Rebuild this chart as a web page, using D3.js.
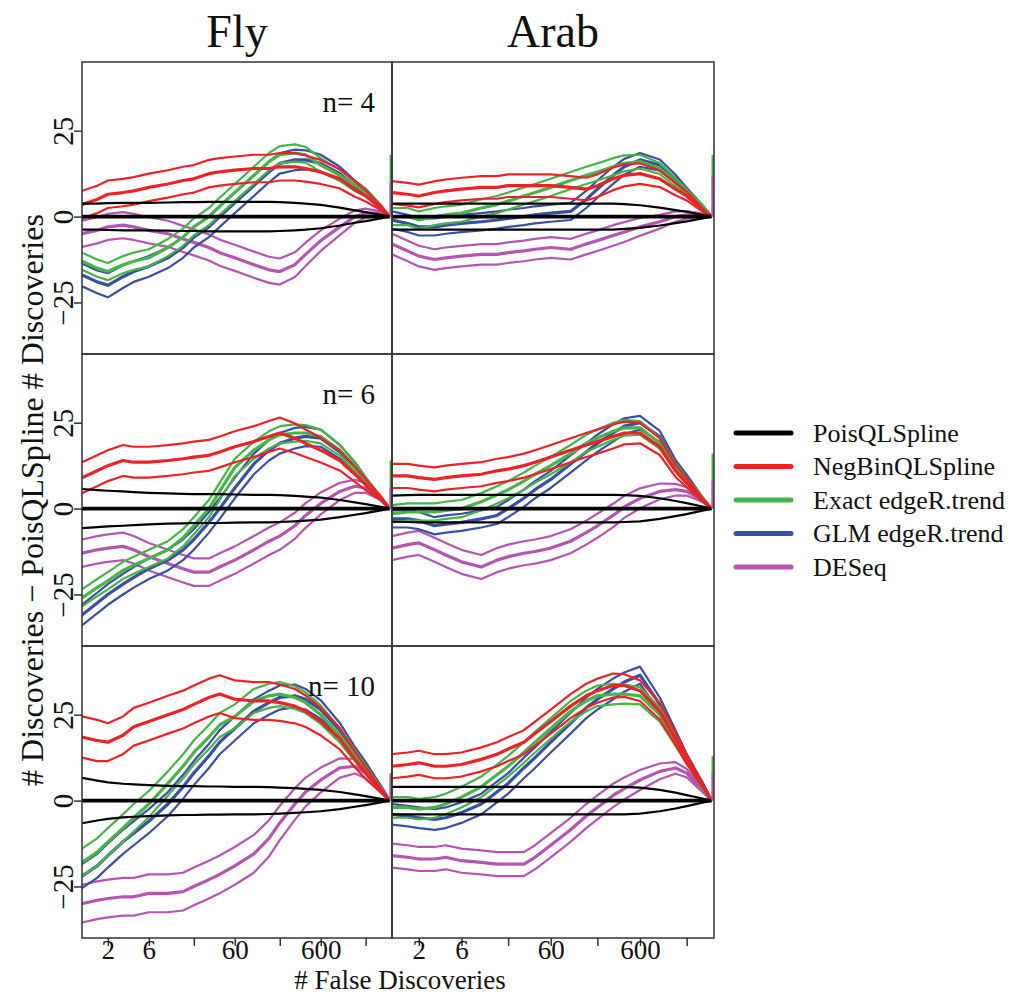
<!DOCTYPE html>
<html>
<head>
<meta charset="utf-8">
<script src="https://d3js.org/d3.v7.min.js"></script>
<style>
  body { margin: 0; background: #fff; }
  svg text { font-family: "Liberation Serif", "Times New Roman", serif; fill: #111; }
</style>
</head>
<body>
<svg id="chart" width="1019" height="998"></svg>
<script>
// x positions (# false discoveries) at which the curves were read
const xs = [1, 1.5, 2, 3, 4, 6, 10, 15, 20, 30, 40, 60, 100, 150, 200, 300, 400, 600, 1000, 1500, 2000, 3000, 3800];
const xTickValues = [2, 6, 20, 60, 200, 600, 2000];
const xTickLabels = ["2", "6", "", "60", "", "600", ""];
const yTickValues = [-25, 0, 25];
const yTickLabels = ["\u221225", "0", "25"];

const methods = ["PoisQLSpline", "NegBinQLSpline", "Exact edgeR.trend", "GLM edgeR.trend", "DESeq"];
const colors = ["#000000", "#ec2227", "#46b449", "#3a4fa2", "#b655b1"];
const species = ["Fly", "Arab"];
const sampleSizes = [4, 6, 10];

// rows: Pois, NegBin, Exact, GLM, DESeq  (mid line and half-width of band)
const fly4Mid = [
  [0,0,0,0,0,0,0,0,0,0,0,0,0,0,0,0,0,0,0,0,0,0,0],
  [3.5,5,6.5,7,7.5,8.5,9.5,10.5,11,12.5,13,13.5,14,14,14.5,14.5,14,13,11,8,6,2.5,0],
  [-13,-15,-16,-14,-13,-12,-9,-6,-3,0,3,7,12,16,18,18.5,18,15,12,9,7,3,0],
  [-17,-19,-20,-17.5,-16,-14.5,-12,-9,-6,-3,0,4,9,13,15.5,16.5,16.5,15.5,12.5,9,7,3,0],
  [-5,-4,-3,-2.5,-3,-4,-5,-6.5,-7.5,-9,-10.5,-12,-14,-15.5,-16,-14,-11,-7,-3,0,1,1,0]
];
const fly4Half = [
  [3.8,3.8,3.9,4,4,4,4.1,4.2,4.2,4.3,4.3,4.3,4.3,4.3,4.2,4,3.8,3.4,2.6,1.8,1.3,0.5,0],
  [4,4,4,4,4,4,4,4,4,4,4,4,4,4,4,4,3.8,3.5,2.8,2.2,1.6,0.6,0],
  [2.5,2.5,2.5,2.5,2.5,2.5,2.5,2.5,2.5,2.5,2.5,2.5,2.5,2.5,2.5,2.5,2.3,2,1.6,1.2,0.9,0.4,0],
  [3.3,3.3,3.5,3.3,3,3,3,3,3,3,3,3,3,3,3,3,2.8,2.5,2,1.5,1.1,0.4,0],
  [3.8,3.8,3.8,3.8,3.8,3.8,3.8,3.8,3.8,3.8,3.8,3.8,3.8,3.8,3.8,3.6,3.4,3,2.4,1.8,1.3,0.5,0]
];
const arab4Mid = [
  [0,0,0,0,0,0,0,0,0,0,0,0,0,0,0,0,0,0,0,0,0,0,0],
  [7,6.5,6,7,7.5,8,8.5,8.5,9,9,9,9,8.5,8,9,11,12,12.5,11,8,6,2,0],
  [0,0,-1,0,0.5,1,2.5,3.5,4.5,6,7,8.5,10.5,12,13,14.5,15.5,16,14,10,7,3,0],
  [-1,-2,-3,-3,-2.5,-2,-1.5,-1,-0.5,0,0.5,1,1.5,5,8,12,14.5,16.5,15,11,7.5,3,0],
  [-8,-10,-11.5,-12.5,-12,-11.5,-11,-11,-10.5,-10,-9.5,-9,-9.5,-8,-7,-5.5,-4.5,-3,-1.5,0,0.5,0.5,0]
];
const arab4Half = [
  [3.8,3.8,3.8,3.8,3.8,3.8,3.8,3.8,3.8,3.8,3.8,3.8,3.8,3.8,3.8,3.8,3.6,3.3,2.6,1.9,1.4,0.5,0],
  [3.3,3.3,3.3,3.3,3.3,3.3,3.3,3.3,3.3,3.3,3.3,3.3,3.3,3.3,3.3,3.3,3.2,3,2.4,1.8,1.3,0.5,0],
  [2.5,2.5,2.5,2.5,2.5,2.5,2.5,2.5,2.5,2.5,2.5,2.5,2.5,2.5,2.5,2.5,2.3,2,1.6,1.2,0.9,0.4,0],
  [2.5,2.5,2.5,2.5,2.5,2.5,2.5,2.5,2.5,2.5,2.5,2.5,2.5,2.5,2.5,2.5,2.3,2,1.6,1.2,0.9,0.4,0],
  [3,3,3,3,3,3,3,3,3,3,3,3,3,3,3,3,2.9,2.6,2,1.5,1.1,0.4,0]
];
const fly6Mid = [
  [0,0,0,0,0,0,0,0,0,0,0,0,0,0,0,0,0,0,0,0,0,0,0],
  [9,11,12.5,14,13.5,13.5,14,14.5,15,15.5,16.5,18,19.5,21,22,20.5,19,17,14,10,7,3,0],
  [-26,-23,-21,-18,-16.5,-14.5,-12,-8.5,-5,0,5,12,17,20,21.5,22,22,21,17,12,8,3,0],
  [-31,-27.5,-25,-22,-20,-17.5,-15,-12,-9,-4,0,6,13,17,19,20.5,21,20.5,16.5,12,8,3,0],
  [-13,-12,-11.5,-11,-12,-14,-16,-17.5,-18.5,-18.5,-17,-15,-12,-9.5,-8,-5,-2,1.5,5,6.5,6,3,0]
];
const fly6Half = [
  [5.7,5.4,5.2,5,4.8,4.6,4.4,4.3,4.2,4.2,4.2,4.1,4,4,3.9,3.7,3.5,3.2,2.5,1.8,1.3,0.5,0],
  [4.5,4.5,4.5,4.5,4.5,4.5,4.5,4.5,4.5,4.5,4.5,4.5,4.5,4.5,4.5,4.3,4,3.6,2.9,2.2,1.6,0.6,0],
  [2.5,2.5,2.5,2.5,2.5,2.5,2.5,2.5,2.5,2.5,2.5,2.5,2.5,2.5,2.5,2.5,2.3,2,1.6,1.2,0.9,0.4,0],
  [3,3,3,3,3,3,3,3,3,3,3,3,3,3,3,3,2.8,2.5,2,1.5,1.1,0.4,0],
  [4,4,4,4,4,4,4,4,4,4,4,4,4,4,4,3.8,3.6,3.2,2.5,1.9,1.4,0.5,0]
];
const arab6Mid = [
  [0,0,0,0,0,0,0,0,0,0,0,0,0,0,0,0,0,0,0,0,0,0,0],
  [9.5,9.5,9,8.5,9,9.5,10,11,11.5,12.5,13.5,15,17,18.5,19.5,21,22,22,18,11,7.5,2.5,0],
  [-1.5,-1,-1,-1,-0.5,0,2,4,5.5,8,10,12.5,16,19,20.5,22.5,23.5,23.5,19,12,8,3,0],
  [-3,-3,-3.5,-5,-4.5,-4,-3,-2,0,3,5.5,8.5,13,16.5,19,22,24,25,21,13,9,3,0],
  [-11.5,-10.5,-10,-12,-13.5,-15.5,-17,-15,-14,-13,-12.5,-11.5,-9.5,-7,-5,-2,0.5,3,5,5.5,5,2.5,0]
];
const arab6Half = [
  [3.8,3.9,4,4,4,4,4,4,4,4,4,4,4,4,4,4,3.9,3.7,3,2.2,1.6,0.6,0],
  [3.5,3.5,3.5,3.5,3.5,3.5,3.5,3.5,3.5,3.5,3.5,3.5,3.5,3.5,3.5,3.5,3.3,3,2.4,1.8,1.3,0.5,0],
  [2.5,2.5,2.5,2.5,2.5,2.5,2.5,2.5,2.5,2.5,2.5,2.5,2.5,2.5,2.5,2.5,2.3,2,1.6,1.2,0.9,0.4,0],
  [2.5,2.5,2.5,2.5,2.5,2.5,2.5,2.5,2.5,2.5,2.5,2.5,2.5,2.5,2.5,2.5,2.3,2,1.6,1.2,0.9,0.4,0],
  [3.5,3.5,3.5,3.5,3.5,3.5,3.5,3.5,3.5,3.5,3.5,3.5,3.5,3.5,3.5,3.4,3.2,2.9,2.3,1.7,1.2,0.5,0]
];
const fly10Mid = [
  [0,0,0,0,0,0,0,0,0,0,0,0,0,0,0,0,0,0,0,0,0,0,0],
  [18.5,17.5,17,19,21.5,23,25,26.5,28,30,31,29.5,29,29,28.5,27.5,26,23,18,12,8,3,0],
  [-18,-15,-12,-8,-5,-1,5,10,14,18.5,22,24.5,29,30.5,31,30,28.5,25,19,13,9,3.5,0],
  [-22,-19,-16,-12,-9.5,-6,-1,4,8,13,17,21,26,28.5,30,30.5,29.5,26.5,20.5,14,10,4,0],
  [-30,-29,-28.5,-28,-28,-27,-27,-26.5,-25,-23,-21.5,-19,-15.5,-11,-6.5,-1,2.5,6,9.5,10,8,3,0]
];
const fly10Half = [
  [6.6,5.8,5.3,4.9,4.7,4.5,4.3,4.2,4.2,4.1,4.1,4,4,3.9,3.8,3.6,3.4,3.1,2.5,1.8,1.3,0.5,0],
  [6,6,5.5,5.5,5.5,5.5,5.5,5.5,5.5,5.5,5.5,5.5,5.5,5.5,5.3,5,4.6,4,3.1,2.3,1.7,0.6,0],
  [4,4,4,4,4,3.8,3.5,3.5,3.5,3.5,3.5,3.5,3.5,3.5,3.5,3.3,3,2.7,2.1,1.6,1.2,0.4,0],
  [3.5,3.5,3.5,3.5,3.5,3.5,3.5,3.5,3.5,3.5,3.5,3.5,3.5,3.5,3.5,3.3,3,2.7,2.1,1.6,1.2,0.4,0],
  [5.5,5.5,5.5,5.5,5.5,5.5,5.5,5.5,5.5,5.5,5.5,5.5,5.5,5.3,5,4.6,4.2,3.6,2.8,2.1,1.5,0.6,0]
];
const arab10Mid = [
  [0,0,0,0,0,0,0,0,0,0,0,0,0,0,0,0,0,0,0,0,0,0,0],
  [10,10.5,11,10,10,10.5,12,13.5,15,17,19.5,23,27.5,30.5,32,33.5,33.5,32,26,18,12,4.5,0],
  [-2,-2,-2.5,-2,-1,1,4,7.5,10,14,17,21,26,29,30.5,31,31,30.5,25,17.5,12,4,0],
  [-4,-4.5,-5,-5.5,-5,-3.5,-1,2.5,5,9.5,12.5,17,22.5,27,29.5,32.5,34.5,36.5,28,19,12.5,5,0],
  [-16,-16.5,-17,-17,-16.5,-17.5,-18,-18.5,-18.5,-18.5,-16.5,-13,-8.5,-4.5,-2,1.5,3.5,6,8.5,9.5,8,3,0]
];
const arab10Half = [
  [4,4,4,4,4,4,4,4,4,4,4,4,4,4,4,4,4,3.8,3.1,2.3,1.6,0.6,0],
  [3.5,3.5,3.5,3.5,3.5,3.5,3.5,3.5,3.5,3.5,3.5,3.5,3.5,3.5,3.5,3.5,3.3,3,2.4,1.8,1.3,0.5,0],
  [3,3,3,3,3,3,3,3,3,3,3,3,3,3,3,3,2.8,2.5,2,1.5,1.1,0.4,0],
  [3,3,3,3,3,3,3,3,3,3,3,3,3,3,3,3,2.8,2.5,2,1.5,1.1,0.4,0],
  [3.5,3.5,3.5,3.5,3.5,3.5,3.5,3.5,3.5,3.5,3.5,3.5,3.5,3.5,3.5,3.4,3.2,2.9,2.3,1.7,1.2,0.5,0]
];

// short vertical stubs at the right edge of each panel (Exact edgeR.trend, DESeq)
const edgeSpikeGreen = [[18, 18], [14, 16], [8, 13]];
const edgeSpikePurple = [[10, 12], [6, 8], [7, 8]];

const panels = [
  [[fly4Mid, fly4Half], [arab4Mid, arab4Half]],
  [[fly6Mid, fly6Half], [arab6Mid, arab6Half]],
  [[fly10Mid, fly10Half], [arab10Mid, arab10Half]]
];

const FONT = '"Liberation Serif", "Times New Roman", serif';

// layout
const colEdges = [82, 392, 714];
const rowTops = [62, 354, 646];
const rowH = 292;

const svg = d3.select("#chart");

const xScales = [0, 1].map(c => d3.scaleLog().domain([1, 4050]).range([colEdges[c], colEdges[c + 1]]));
const yScales = rowTops.map(t => d3.scaleLinear().domain([-40, 45]).range([t + rowH, t]));

// column titles
species.forEach((s, c) => {
  svg.append("text")
    .attr("x", (colEdges[c] + colEdges[c + 1]) / 2)
    .attr("y", 47)
    .attr("text-anchor", "middle")
    .style("font-family", FONT)
    .style("font-size", "46px")
    .text(s);
});

const drawOrder = [4, 3, 2, 1, 0];

panels.forEach((row, r) => {
  row.forEach(([mid, half], c) => {
    const x = xScales[c], y = yScales[r];
    const id = "clip" + r + c;
    svg.append("clipPath").attr("id", id)
      .append("rect")
      .attr("x", colEdges[c]).attr("y", rowTops[r])
      .attr("width", colEdges[c + 1] - colEdges[c]).attr("height", rowH);

    const g = svg.append("g").attr("clip-path", "url(#" + id + ")");
    const line = d3.line().x(d => x(d[0])).y(d => y(d[1]));

    drawOrder.forEach(m => {
      const lo = xs.map((v, i) => [v, mid[m][i] - half[m][i]]);
      const hi = xs.map((v, i) => [v, mid[m][i] + half[m][i]]);
      const md = xs.map((v, i) => [v, mid[m][i]]);
      [lo, hi].forEach(pts => {
        g.append("path").attr("d", line(pts))
          .attr("fill", "none").attr("stroke", colors[m])
          .attr("stroke-width", 2.2).attr("stroke-linejoin", "round");
      });
      g.append("path").attr("d", line(md))
        .attr("fill", "none").attr("stroke", colors[m])
        .attr("stroke-width", m === 0 ? 3.6 : 3.2).attr("stroke-linejoin", "round");
    });

    // edge stubs
    [[edgeSpikeGreen, 2], [edgeSpikePurple, 4]].forEach(([arr, m]) => {
      g.append("line")
        .attr("x1", x(3950)).attr("x2", x(3950))
        .attr("y1", y(0)).attr("y2", y(arr[r][c]))
        .attr("stroke", colors[m]).attr("stroke-width", 3);
    });

    // panel box
    svg.append("rect")
      .attr("x", colEdges[c]).attr("y", rowTops[r])
      .attr("width", colEdges[c + 1] - colEdges[c]).attr("height", rowH)
      .attr("fill", "none").attr("stroke", "#333").attr("stroke-width", 1.5);

    if (c === 0) {
      const ax = svg.append("g")
        .attr("transform", "translate(" + colEdges[0] + ",0)")
        .call(d3.axisLeft(y).tickValues(yTickValues).tickSize(8)
          .tickFormat((d, i) => yTickLabels[i]));
      ax.select(".domain").remove();
      ax.selectAll(".tick line").attr("stroke", "#333").attr("stroke-width", 1.5);
      ax.selectAll(".tick text")
        .style("font-family", FONT)
        .style("font-size", "29px")
        .attr("fill", "#111")
        .attr("x", 0).attr("dy", null).attr("y", 0)
        .attr("text-anchor", "middle")
        .attr("transform", "translate(-9,0) rotate(-90)");

      svg.append("text")
        .attr("x", 375).attr("y", rowTops[r] + 50)
        .attr("text-anchor", "end")
        .style("font-family", FONT)
        .style("font-size", "29px")
        .text("n= " + sampleSizes[r]);
    }

    if (r === 2) {
      const ax = svg.append("g")
        .attr("transform", "translate(0," + (rowTops[2] + rowH) + ")")
        .call(d3.axisBottom(x).tickValues(xTickValues).tickSize(8)
          .tickFormat((d, i) => xTickLabels[i]));
      ax.select(".domain").remove();
      ax.selectAll(".tick line").attr("stroke", "#333").attr("stroke-width", 1.5);
      ax.selectAll(".tick text")
        .style("font-family", FONT)
        .style("font-size", "27px")
        .attr("fill", "#111")
        .attr("dy", null).attr("y", 21);
    }
  });
});

// axis titles
svg.append("text")
  .attr("transform", "translate(43," + (rowTops[0] + rowH * 1.5) + ") rotate(-90)")
  .attr("text-anchor", "middle")
  .style("font-family", FONT)
  .style("font-size", "32px")
  .text("# Discoveries \u2212 PoisQLSpline # Discoveries");

svg.append("text")
  .attr("x", 400).attr("y", 989)
  .attr("text-anchor", "middle")
  .style("font-family", FONT)
  .style("font-size", "27px")
  .text("# False Discoveries");

// legend
const legend = svg.append("g").attr("transform", "translate(736,433)");
methods.forEach((name, i) => {
  const gy = i * 33.5;
  legend.append("line")
    .attr("x1", 0).attr("x2", 55).attr("y1", gy).attr("y2", gy)
    .attr("stroke", colors[i]).attr("stroke-width", 5).attr("stroke-linecap", "round");
  legend.append("text")
    .attr("x", 77).attr("y", gy)
    .attr("dominant-baseline", "central")
    .style("font-family", FONT)
    .style("font-size", "26px")
    .text(name);
});
</script>
</body>
</html>
